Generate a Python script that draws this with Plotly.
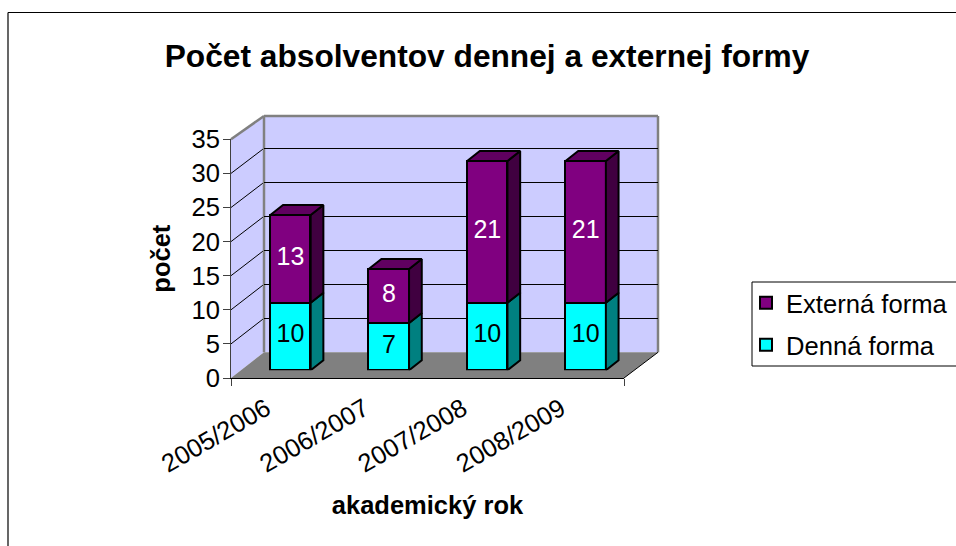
import plotly.graph_objects as go

categories = ["2005/2006", "2006/2007", "2007/2008", "2008/2009"]
denna = [10, 7, 10, 10]
externa = [13, 8, 21, 21]
value_ticks = [0, 5, 10, 15, 20, 25, 30, 35]
title_text = "Počet absolventov dennej a externej formy"

W, H = 956, 546
FONT = "Liberation Sans, Arial, sans-serif"


def px(v):
    return v / W


def py(v):
    return 1 - v / H


# projection geometry of the pseudo-3D chart, in pixels
FRONT = dict(l=231, r=624, y0=378, y35=139.3)
BACK = dict(l=264, r=658, y0=352.3, top=116, per_unit=6.8)
BARS = dict(l=241.3, r=634.9, y0=370.3, per_unit=6.75)
BAR_W = 0.41
DEPTH_X = 12.7 / ((BARS["r"] - BARS["l"]) / 4)
DEPTH_Y = 10 / BARS["per_unit"]
EDGE = 2
LABEL_LIFT = 0.05


def side_poly(lows, highs):
    xs, ys = [], []
    for i, (lo, hi) in enumerate(zip(lows, highs)):
        r = i + BAR_W / 2
        xs += [r, r + DEPTH_X, r + DEPTH_X, r, r, None]
        ys += [lo, lo + DEPTH_Y, hi + DEPTH_Y, hi, lo, None]
    return xs, ys


def top_poly(tops):
    xs, ys = [], []
    for i, t in enumerate(tops):
        l, r = i - BAR_W / 2, i + BAR_W / 2
        xs += [l, r, r + DEPTH_X, l + DEPTH_X, l, None]
        ys += [t, t, t + DEPTH_Y, t + DEPTH_Y, t, None]
    return xs, ys


totals = [a + b for a, b in zip(denna, externa)]
idx = list(range(len(categories)))
fig = go.Figure()

# back-wall plane carries the horizontal grid
fig.add_trace(go.Scatter(x=[None], y=[None], xaxis="x", yaxis="y", showlegend=False, hoverinfo="skip"))
# front plane carries the visible axes
fig.add_trace(go.Scatter(x=[None], y=[None], xaxis="x2", yaxis="y2", showlegend=False, hoverinfo="skip"))

# bars on their own plane
fig.add_trace(go.Bar(
    x=idx, y=denna, name="Denná forma", xaxis="x3", yaxis="y3", width=BAR_W, legend="legend2",
    marker=dict(color="#00FFFF", line=dict(color="#000000", width=EDGE)),
))
fig.add_trace(go.Bar(
    x=idx, y=externa, name="Externá forma", xaxis="x3", yaxis="y3", width=BAR_W, legend="legend",
    marker=dict(color="#800080", line=dict(color="#000000", width=EDGE)),
))

for (xs, ys), col in [
    (side_poly([0] * 4, denna), "#008080"),
    (side_poly(denna, totals), "#400040"),
    (top_poly(totals), "#600060"),
]:
    fig.add_trace(go.Scatter(
        x=xs, y=ys, xaxis="x3", yaxis="y3", mode="lines", fill="toself", fillcolor=col,
        line=dict(color="#000000", width=EDGE), showlegend=False, hoverinfo="skip",
    ))

# value labels, centred on each segment
fig.add_trace(go.Scatter(
    x=idx, y=[v / 2 + LABEL_LIFT for v in denna], text=denna, mode="text", xaxis="x3", yaxis="y3",
    textposition="middle center", textfont=dict(color="#000000", size=25, family=FONT),
    showlegend=False, hoverinfo="skip",
))
fig.add_trace(go.Scatter(
    x=idx, y=[d + v / 2 + LABEL_LIFT for d, v in zip(denna, externa)], text=externa, mode="text",
    xaxis="x3", yaxis="y3", textposition="middle center",
    textfont=dict(color="#FFFFFF", size=25, family=FONT), showlegend=False, hoverinfo="skip",
))

shapes = []


def poly(points, fill, line=None, width=0):
    path = "M" + " L".join(f"{px(x)},{py(y)}" for x, y in points) + " Z"
    shapes.append(dict(type="path", path=path, xref="paper", yref="paper", layer="below",
                       fillcolor=fill, line=dict(color=line or fill, width=width)))


def seg(x0, y0, x1, y1, color="#000000", width=1, layer="below"):
    shapes.append(dict(type="line", xref="paper", yref="paper", layer=layer,
                       x0=px(x0), y0=py(y0), x1=px(x1), y1=py(y1),
                       line=dict(color=color, width=width)))


WALL = "#CCCCFF"
GREY = "#808080"
poly([(BACK["l"], BACK["top"]), (BACK["r"], BACK["top"]), (BACK["r"], BACK["y0"]), (BACK["l"], BACK["y0"])], WALL)
poly([(FRONT["l"], FRONT["y35"]), (BACK["l"], BACK["top"]), (BACK["l"], BACK["y0"]), (FRONT["l"], FRONT["y0"])], WALL)
poly([(FRONT["l"], FRONT["y0"]), (BACK["l"], BACK["y0"]), (BACK["r"], BACK["y0"]), (FRONT["r"], FRONT["y0"])], GREY)

front_unit = (FRONT["y0"] - FRONT["y35"]) / 35
for v in value_ticks[1:-1]:
    seg(FRONT["l"], FRONT["y0"] - v * front_unit, BACK["l"], BACK["y0"] - v * BACK["per_unit"])

seg(BACK["l"], BACK["top"], BACK["r"], BACK["top"], GREY, 2.5)
seg(BACK["r"], BACK["top"], BACK["r"], BACK["y0"], GREY, 2.5)
seg(BACK["l"], BACK["top"], BACK["l"], BACK["y0"], GREY, 2.5)
seg(FRONT["l"], FRONT["y35"], BACK["l"], BACK["top"], GREY, 2.5)
seg(FRONT["r"], FRONT["y0"], BACK["r"], BACK["y0"], "#000000", 1)

# chart frame and legend box
seg(8, 12.5, 956, 12.5, "#000000", 1.2)
seg(8, 12.5, 8, 546, "#000000", 1.2)
shapes.append(dict(type="rect", xref="paper", yref="paper", layer="below",
                   x0=px(752), x1=px(962), y0=py(282), y1=py(366),
                   line=dict(color="#000000", width=1), fillcolor="#FFFFFF"))

hidden = dict(visible=False, fixedrange=True)
legend_style = dict(xanchor="left", yanchor="middle", xref="paper", yref="paper",
                    bgcolor="rgba(0,0,0,0)", borderwidth=0,
                    font=dict(size=25.6, family=FONT, color="#000000"), itemwidth=30)
fig.update_layout(
    width=W, height=H, autosize=False,
    margin=dict(l=0, r=0, t=0, b=0),
    paper_bgcolor="#FFFFFF", plot_bgcolor="rgba(0,0,0,0)",
    barmode="stack", bargap=0,
    font=dict(family=FONT, color="#000000"),
    shapes=shapes,
    title=dict(text="<b>" + title_text + "</b>", x=px(487), xanchor="center", xref="paper",
               y=py(56), yanchor="middle", yref="paper", font=dict(size=31.7, family=FONT, color="#000000")),
    xaxis=dict(domain=[px(BACK["l"]), px(BACK["r"])], range=[-0.5, 3.5], anchor="y", **hidden),
    yaxis=dict(domain=[py(BACK["y0"]), py(BACK["top"])],
               range=[0, (BACK["y0"] - BACK["top"]) / BACK["per_unit"]],
               anchor="x", showticklabels=False, ticks="", showline=False, zeroline=False,
               tickmode="array", tickvals=value_ticks[1:-1], showgrid=True,
               gridcolor="#000000", gridwidth=1, fixedrange=True),
    xaxis2=dict(domain=[px(FRONT["l"]), px(FRONT["r"])], range=[-0.5, 3.5], anchor="y2",
                tickmode="array", tickvals=idx, ticktext=categories, tickangle=-30,
                ticks="", tickfont=dict(size=25.5, family=FONT, color="#000000"),
                ticklabelshift=-14, ticklabelstandoff=5,
                showline=True, linecolor="#000000", linewidth=1, showgrid=False, zeroline=False,
                minor=dict(tickvals=[-0.5, 3.5], ticks="outside", ticklen=7, tickcolor="#404040", tickwidth=1),
                title=dict(text="<b>akademický rok</b>", font=dict(size=25.5, family=FONT, color="#000000"), standoff=19),
                fixedrange=True, automargin=False),
    yaxis2=dict(domain=[py(FRONT["y0"]), py(FRONT["y35"])], range=[0, 35], anchor="x2",
                tickmode="array", tickvals=value_ticks, ticks="outside", ticklen=7, tickcolor="#404040",
                tickfont=dict(size=25.6, family=FONT, color="#000000"),
                ticklabelstandoff=-2,
                showline=True, linecolor="#404040", linewidth=1, showgrid=False, zeroline=False,
                title=dict(text="<b>počet</b>", font=dict(size=25.5, family=FONT, color="#000000"), standoff=13),
                fixedrange=True, automargin=False),
    xaxis3=dict(domain=[px(BARS["l"]), px(BARS["r"])], range=[-0.5, 3.5], anchor="y3", **hidden),
    yaxis3=dict(domain=[py(BARS["y0"]), py(BARS["y0"] - 35 * BARS["per_unit"])], range=[0, 35],
                anchor="x3", **hidden),
    legend=dict(x=px(746), y=py(303), **legend_style),
    legend2=dict(x=px(746), y=py(345), **legend_style),
)

fig.write_html("out.html", config=dict(displayModeBar=False),
               post_script="document.body.style.margin='0';")
